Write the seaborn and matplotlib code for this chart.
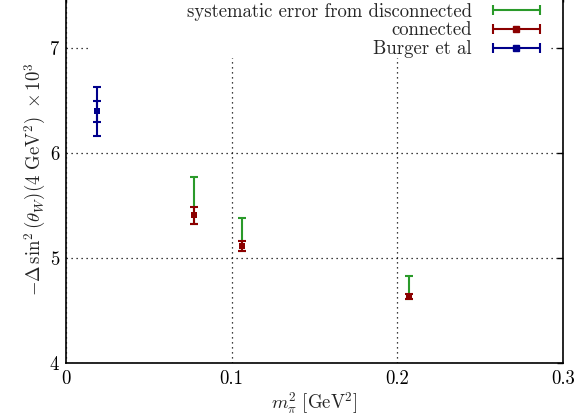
import numpy as np
import pandas as pd
import seaborn as sns
import matplotlib
matplotlib.use("Agg")
import matplotlib.pyplot as plt
from matplotlib.lines import Line2D
from matplotlib.patches import Rectangle
from matplotlib.legend_handler import HandlerLine2D, HandlerTuple

# ---- data ----
mpi2 = [0.0771, 0.106, 0.2068]           # m_pi^2 [GeV^2]
connected = [5.407, 5.114, 4.632]        # central values
conn_err = [0.082, 0.050, 0.025]         # statistical error (connected)
sys_disc = [0.279, 0.216, 0.175]         # systematic error from disconnected (upward)

burger_x = [0.0189]
burger_y = [6.397]
burger_stat = [0.100]
burger_tot = [0.235]

xticks = [0, 0.1, 0.2, 0.3]
yticks = [4, 5, 6, 7]

sns.set_theme(style="white")
FS = 13.5
plt.rcParams.update({
    "font.family": ["cmr10", "DejaVu Serif"],
    "mathtext.fontset": "cm",
    "axes.formatter.use_mathtext": True,
    "axes.unicode_minus": False,
    "font.size": FS,
})

GREEN = "#2a9a2a"
RED = "#8b0000"
BLUE = "#00008b"

W, H = 574, 420
fig = plt.figure(figsize=(W / 100, H / 100), dpi=100)
ax = fig.add_axes([66/W, 57/H, (563-66)/W, (H+4.5-57)/H])

df = pd.DataFrame({"x": mpi2, "y": connected})
lo = np.array(conn_err)
hi = np.array(conn_err) + np.array(sys_disc)

# green: systematic (from lower stat edge to top of systematic)
ax.errorbar(mpi2, connected, yerr=[lo, hi], fmt="none", ecolor=GREEN,
            elinewidth=1.5, capsize=3, capthick=1.5, zorder=3)
# red: connected
ax.errorbar(mpi2, connected, yerr=conn_err, fmt="none", ecolor=RED,
            elinewidth=1.5, capsize=3, capthick=1.5, zorder=4)
sns.scatterplot(data=df, x="x", y="y", marker="s", s=22, color=RED,
                edgecolor=RED, linewidth=0, ax=ax, zorder=5, legend=False)

# blue: Burger et al, total and statistical
ax.errorbar(burger_x, burger_y, yerr=burger_tot, fmt="none", ecolor=BLUE,
            elinewidth=1.5, capsize=3, capthick=1.5, zorder=4)
ax.errorbar(burger_x, burger_y, yerr=burger_stat, fmt="none", ecolor=BLUE,
            elinewidth=1.5, capsize=3, capthick=1.5, zorder=4)
dfb = pd.DataFrame({"x": burger_x, "y": burger_y})
sns.scatterplot(data=dfb, x="x", y="y", marker="s", s=22, color=BLUE,
                edgecolor=BLUE, linewidth=0, ax=ax, zorder=5, legend=False)

ax.set_xlim(0, 0.3)
ax.set_ylim(4, 7.5)
ax.set_xticks(xticks)
ax.set_xticklabels(["0", "0.1", "0.2", "0.3"])
ax.set_yticks(yticks)
ax.set_yticklabels([str(v) for v in yticks])
ax.tick_params(direction="in", length=4, width=1, top=True, right=True,
               labelsize=FS, colors="black", pad=5)
for s in ax.spines.values():
    s.set_color("black")
    s.set_linewidth(1.2)
ax.grid(True, color="black", linestyle=(0, (1, 3)), linewidth=0.9)
ax.set_axisbelow(True)

# white key box behind the legend (hides the grid there, as in the original)
ax.add_patch(Rectangle((90/W, 1 - 58/H), (551-90)/W, 58/H,
                       transform=fig.transFigure, facecolor="white",
                       edgecolor="none", zorder=2.5))

ax.set_xlabel(r"$m_\pi^2\ [\mathrm{GeV}^2]$", fontsize=FS, labelpad=2)
ax.set_ylabel(r"$-\Delta\,\sin^2(\theta_W)(4\ \mathrm{GeV}^2)\ \times 10^3$",
              fontsize=FS, labelpad=1)


def mk(color, center):
    bar = Line2D([], [], color=color, lw=1.5, marker="|", markersize=7,
                 markeredgewidth=1.5)
    if center:
        sq = Line2D([], [], color=color, lw=0, marker="s", markersize=4.5)
        return (bar, sq), bar, sq
    return bar, bar, None


h_g, b_g, _ = mk(GREEN, False)
h_r, b_r, s_r = mk(RED, True)
h_b, b_b, s_b = mk(BLUE, True)
hmap = {b: HandlerLine2D(numpoints=2) for b in (b_g, b_r, b_b)}
hmap.update({s: HandlerLine2D(numpoints=1) for s in (s_r, s_b)})
hmap[tuple] = HandlerTuple(ndivide=1, pad=0)

leg = ax.legend([h_g, h_r, h_b],
                ["systematic error from disconnected", "connected", "Burger et al"],
                handler_map=hmap, loc="upper right",
                bbox_to_anchor=(562/W, 1.034), bbox_transform=fig.transFigure,
                markerfirst=False, frameon=False,
                handlelength=3.1, handletextpad=0.8, labelspacing=0.05,
                borderpad=0.4, fontsize=FS)
leg.set_zorder(10)

fig.savefig("out.png", dpi=100)
